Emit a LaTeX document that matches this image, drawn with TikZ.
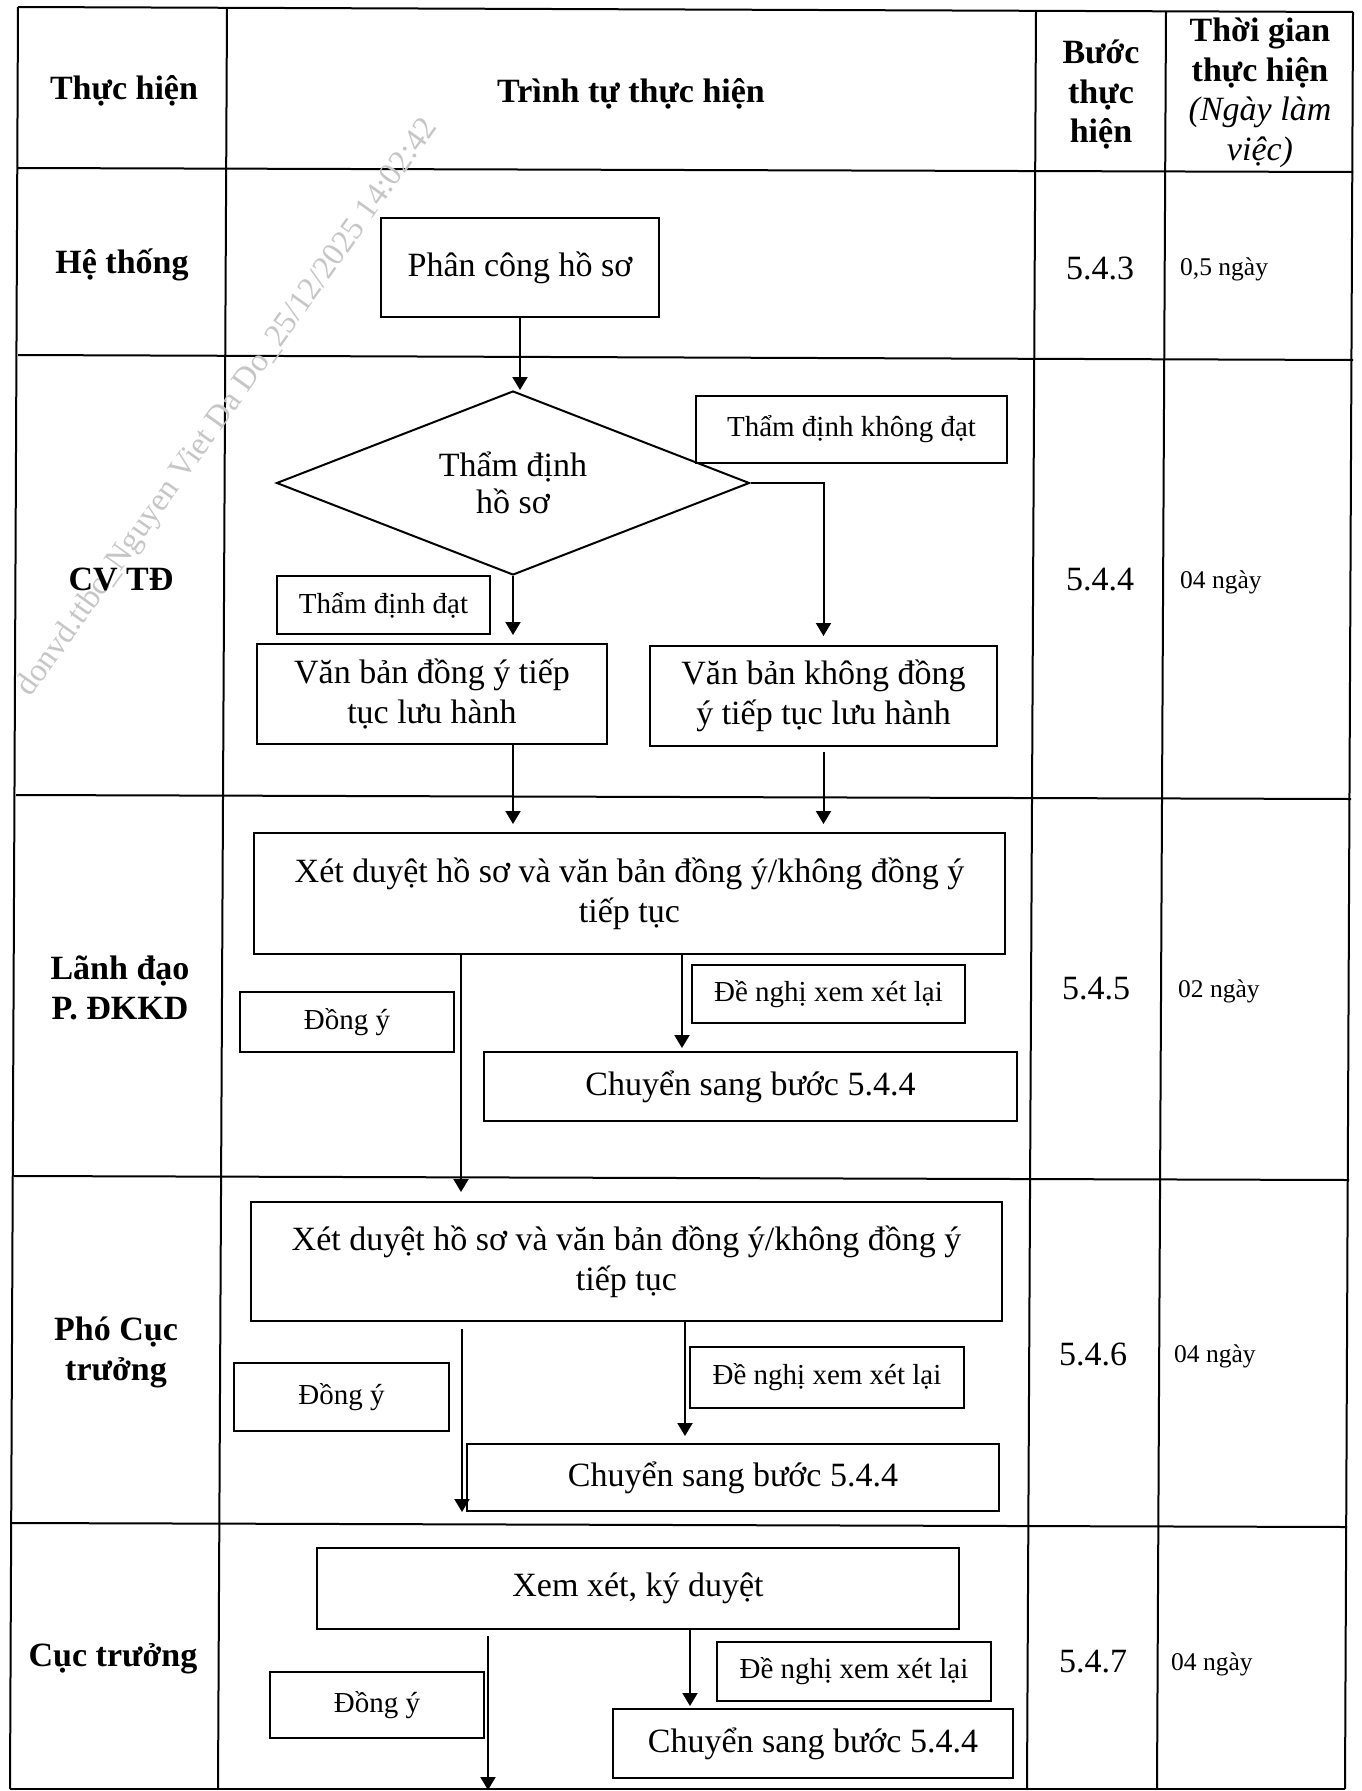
\documentclass[tikz,border=0pt]{standalone}
\usepackage{fontspec}
\setmainfont{Liberation Serif}
\usepackage{tikz}
\usetikzlibrary{arrows.meta,positioning,calc,shapes.geometric}

\begin{document}
\begin{tikzpicture}[x=1pt,y=-1pt]
    \tikzset{
      rule/.style={draw=black,line width=2pt},
      head/.style={align=center,font=\fontsize{34}{39.5}\selectfont\bfseries},
      actor/.style={align=center,font=\fontsize{34}{40}\selectfont\bfseries},
      stepno/.style={font=\fontsize{34}{40}\selectfont},
      days/.style={anchor=west,inner xsep=0pt,font=\fontsize{25.5}{30}\selectfont},
      proc/.style={draw=black,line width=2pt,align=center,inner sep=2pt,font=\fontsize{34}{40}\selectfont},
      tag/.style={draw=black,line width=2pt,align=center,inner sep=2pt,font=\fontsize{29}{34}\selectfont},
      decide/.style={diamond,draw=black,line width=2pt,align=center,aspect=2.57,inner sep=0pt,font=\fontsize{34}{37}\selectfont},
      arrow/.style={-{Triangle[length=13pt,width=15pt]},draw=black,line width=2pt},
      stamp/.style={text=gray!45,font=\fontsize{32.5}{36}\selectfont}
    }
    \useasboundingbox (0,0) rectangle (1361,1791);
    \draw[rule] (18,7) -- (1353,12);
    \draw[rule] (18,168) -- (1353,172);
    \draw[rule] (18,355) -- (1353,360);
    \draw[rule] (16,795) -- (1351,799);
    \draw[rule] (14,1176) -- (1349,1180);
    \draw[rule] (12,1523) -- (1347,1527);
    \draw[rule] (10,1789) -- (1345,1789);
    \draw[rule] (18,7) -- (10,1789);
    \draw[rule] (227,8) -- (218,1789);
    \draw[rule] (1036,11) -- (1027,1789);
    \draw[rule] (1166,11) -- (1157,1789);
    \draw[rule] (1353,12) -- (1345,1789);
    \node[stamp,rotate=54.5] (mark) at (228,408) {donvd.ttbc\_Nguyen Viet Da Do\_25/12/2025 14:02:42};
    \node[head] (hActor) at (124,91) {Thực hiện};
    \node[head] (hFlow) at (631,94) {Trình tự thực hiện};
    \node[head] (hStep) at (1101,95) {Bước\\thực\\hiện};
    \node[head] (hTime) at (1260,93) {Thời gian\\thực hiện\\{\mdseries\itshape (Ngày làm}\\{\mdseries\itshape việc)}};
    \node[actor] (aSys) at (122,265) {Hệ thống};
    \node[actor] (aCv) at (121,579) {CV TĐ};
    \node[actor] (aLead) at (120,988) {Lãnh đạo\\P. ĐKKD};
    \node[actor] (aVice) at (116,1352) {Phó Cục\\trưởng};
    \node[actor] (aChief) at (113,1659) {Cục trưởng};
    \node[stepno] (s3) at (1100,268) {5.4.3};
    \node[stepno] (s4) at (1100,580) {5.4.4};
    \node[stepno] (s5) at (1096,989) {5.4.5};
    \node[stepno] (s6) at (1093,1354) {5.4.6};
    \node[stepno] (s7) at (1093,1662) {5.4.7};
    \node[days] (d3) at (1180,269) {0,5 ngày};
    \node[days] (d4) at (1180,582) {04 ngày};
    \node[days] (d5) at (1178,991) {02 ngày};
    \node[days] (d6) at (1174,1356) {04 ngày};
    \node[days] (d7) at (1171,1664) {04 ngày};
    \node[proc,minimum width=278pt,minimum height=99pt] (assign) at (520,267.5) {Phân công hồ sơ};
    \node[decide,minimum width=473pt,minimum height=184pt] (check) at (513,483) {Thẩm định\\hồ sơ};
    \node[tag,minimum width=311pt,minimum height=67pt] (fail) at (851.5,429.5) {Thẩm định không đạt};
    \node[tag,minimum width=213pt,minimum height=58pt] (pass) at (383.5,605) {Thẩm định đạt};
    \node[proc,minimum width=350pt,minimum height=100pt] (agreeletter) at (432,694) {Văn bản đồng ý tiếp\\tục lưu hành};
    \node[proc,minimum width=347pt,minimum height=100pt] (refuseletter) at (823.5,696) {Văn bản không đồng\\ý tiếp tục lưu hành};
    \node[proc,minimum width=751pt,minimum height=121pt] (review1) at (629.5,893.5) {Xét duyệt hồ sơ và văn bản đồng ý/không đồng ý\\tiếp tục};
    \node[tag,minimum width=214pt,minimum height=60pt] (agree1) at (347,1022) {Đồng ý};
    \node[tag,minimum width=273pt,minimum height=58pt] (redo1) at (828.5,994) {Đề nghị xem xét lại};
    \node[proc,minimum width=533pt,minimum height=69pt] (back1) at (750.5,1086.5) {Chuyển sang bước 5.4.4};
    \node[proc,minimum width=751pt,minimum height=119pt] (review2) at (626.5,1261.5) {Xét duyệt hồ sơ và văn bản đồng ý/không đồng ý\\tiếp tục};
    \node[tag,minimum width=215pt,minimum height=68pt] (agree2) at (341.5,1397) {Đồng ý};
    \node[tag,minimum width=274pt,minimum height=61pt] (redo2) at (827,1377.5) {Đề nghị xem xét lại};
    \node[proc,minimum width=532pt,minimum height=67pt] (back2) at (733,1477.5) {Chuyển sang bước 5.4.4};
    \node[proc,minimum width=642pt,minimum height=81pt] (sign) at (638,1588.5) {Xem xét, ký duyệt};
    \node[tag,minimum width=214pt,minimum height=66pt] (agree3) at (377,1705) {Đồng ý};
    \node[tag,minimum width=274pt,minimum height=59pt] (redo3) at (854,1671.5) {Đề nghị xem xét lại};
    \node[proc,minimum width=400pt,minimum height=69pt] (back3) at (813,1743.5) {Chuyển sang bước 5.4.4};
    \coordinate (passA) at (461,0);
    \coordinate (passB) at (462,0);
    \coordinate (passC) at (488,0);
    \coordinate (backA) at (682,0);
    \coordinate (backB) at (685,0);
    \coordinate (backC) at (690,0);
    \coordinate (exit) at (488,1790);
    \draw[arrow] (assign.south) -- (assign.south |- check.north);
    \draw[arrow,shorten >=8pt] (check.south) -- (check.south |- agreeletter.north);
    \draw[arrow,shorten >=9pt] (check.east) -| (refuseletter.north);
    \draw[arrow,shorten >=8pt] (check.south |- agreeletter.south) -- (check.south |- review1.north);
    \draw[arrow,shorten >=8pt,shorten <=5pt] (refuseletter.south) -- (refuseletter.south |- review1.north);
    \draw[arrow,shorten >=9pt] (passA |- review1.south) -- (passA |- review2.north);
    \draw[arrow,shorten >=3pt] (backA |- review1.south) -- (backA |- back1.north);
    \draw[arrow,shorten <=7pt,shorten >=35pt] (passB |- review2.south) -- (passB |- sign.north);
    \draw[arrow,shorten >=7pt] (backB |- review2.south) -- (backB |- back2.north);
    \draw[arrow,shorten <=6pt] (passC |- sign.south) -- (exit);
    \draw[arrow,shorten >=2pt] (backC |- sign.south) -- (backC |- back3.north);
  \end{tikzpicture}
\end{document}
